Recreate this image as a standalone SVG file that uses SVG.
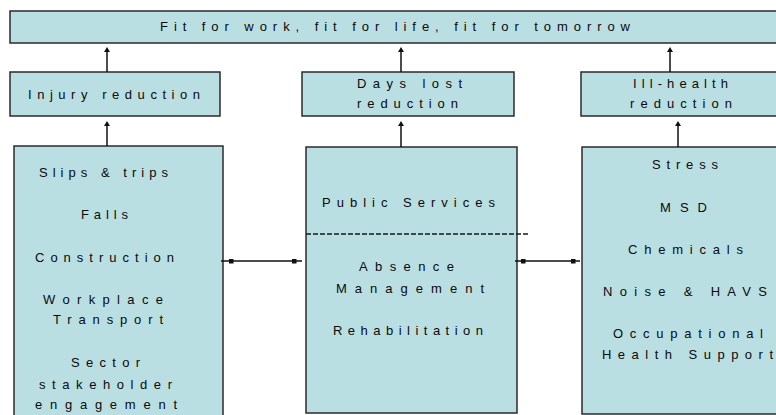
<svg xmlns="http://www.w3.org/2000/svg" width="776" height="415" viewBox="0 0 776 415">
  <defs>
    <!-- small solid arrowhead, drawn along +x so orient="auto" follows the line -->
    <marker id="tri" viewBox="0 0 5 6" refX="1" refY="3" markerWidth="5" markerHeight="6" markerUnits="userSpaceOnUse" orient="auto">
      <path d="M0,0 L5,3 L0,6 Z" fill="#111"/>
    </marker>
    <!-- square joint on the link lines -->
    <marker id="sq" viewBox="0 0 5 5" refX="2.5" refY="2.5" markerWidth="5" markerHeight="5" markerUnits="userSpaceOnUse" orient="0">
      <rect x="0" y="0" width="5" height="5" fill="#111"/>
    </marker>
  </defs>
  <style>
    .box { fill: #b9dfe3; stroke: #2b2b2b; stroke-width: 1.5; }
    .lbl { font-family: "Liberation Sans", Arial, sans-serif; font-size: 13px; fill: #0a0a0a; }
    .up { stroke: #111; stroke-width: 1.5; fill: none; marker-end: url(#tri); }
    .link { stroke: #111; stroke-width: 1.5; fill: none; marker-mid: url(#sq); }
    .split { stroke: #1a1a1a; stroke-width: 1.3; stroke-dasharray: 5 2; fill: none; }
  </style>

  <rect width="776" height="415" fill="#ffffff"/>

  <!-- goal banner -->
  <g id="goal">
    <rect class="box" x="10" y="11" width="775" height="32"/>
    <text class="lbl" x="160" y="31" textLength="470" lengthAdjust="spacing">Fit for work, fit for life, fit for tomorrow</text>
  </g>

  <!-- outcome boxes -->
  <g id="injury-reduction">
    <rect class="box" x="10" y="72" width="210" height="44"/>
    <text class="lbl" x="28" y="99" textLength="172" lengthAdjust="spacing">Injury reduction</text>
  </g>
  <g id="days-lost-reduction">
    <rect class="box" x="302" y="72" width="212" height="44"/>
    <text class="lbl" x="357" y="88" textLength="105" lengthAdjust="spacing">Days lost</text>
    <text class="lbl" x="357" y="108" textLength="101" lengthAdjust="spacing">reduction</text>
  </g>
  <g id="ill-health-reduction">
    <rect class="box" x="581" y="72" width="200" height="44"/>
    <text class="lbl" x="633" y="88" textLength="95" lengthAdjust="spacing">Ill-health</text>
    <text class="lbl" x="630" y="108" textLength="102" lengthAdjust="spacing">reduction</text>
  </g>

  <!-- programme boxes -->
  <g id="injury-programmes">
    <rect class="box" x="14" y="146" width="209" height="275"/>
    <text class="lbl" x="39" y="177" textLength="129" lengthAdjust="spacing">Slips &amp; trips</text>
    <text class="lbl" x="81" y="219" textLength="47" lengthAdjust="spacing">Falls</text>
    <text class="lbl" x="35" y="262" textLength="139" lengthAdjust="spacing">Construction</text>
    <text class="lbl" x="43" y="304" textLength="120" lengthAdjust="spacing">Workplace</text>
    <text class="lbl" x="53" y="324" textLength="110" lengthAdjust="spacing">Transport</text>
    <text class="lbl" x="71" y="367" textLength="69" lengthAdjust="spacing">Sector</text>
    <text class="lbl" x="39" y="389" textLength="133" lengthAdjust="spacing">stakeholder</text>
    <text class="lbl" x="35" y="409" textLength="142" lengthAdjust="spacing">engagement</text>
  </g>
  <g id="days-lost-programmes">
    <rect class="box" x="306" y="147" width="211" height="266"/>
    <text class="lbl" x="322" y="207" textLength="173" lengthAdjust="spacing">Public Services</text>
    <text class="lbl" x="359" y="271" textLength="95" lengthAdjust="spacing">Absence</text>
    <text class="lbl" x="336" y="293" textLength="148" lengthAdjust="spacing">Management</text>
    <text class="lbl" x="333" y="335" textLength="150" lengthAdjust="spacing">Rehabilitation</text>
  </g>
  <g id="ill-health-programmes">
    <rect class="box" x="582" y="147" width="200" height="267"/>
    <text class="lbl" x="652" y="169" textLength="66" lengthAdjust="spacing">Stress</text>
    <text class="lbl" x="660" y="212" textLength="47" lengthAdjust="spacing">MSD</text>
    <text class="lbl" x="628" y="254" textLength="115" lengthAdjust="spacing">Chemicals</text>
    <text class="lbl" x="603" y="296" textLength="164" lengthAdjust="spacing">Noise &amp; HAVS</text>
    <text class="lbl" x="613" y="338" textLength="150" lengthAdjust="spacing">Occupational</text>
    <text class="lbl" x="602" y="359" textLength="171" lengthAdjust="spacing">Health Support</text>
  </g>

  <!-- connectors -->
  <g id="connectors">
    <line class="up" x1="107" y1="72" x2="107" y2="51"/>
    <line class="up" x1="401" y1="72" x2="401" y2="51"/>
    <line class="up" x1="670" y1="72" x2="670" y2="51"/>
    <line class="up" x1="107" y1="146" x2="107" y2="125"/>
    <line class="up" x1="401" y1="147" x2="401" y2="125"/>
    <line class="up" x1="678" y1="147" x2="678" y2="125"/>
    <line class="split" x1="306" y1="234" x2="528" y2="234"/>
    <path class="link" d="M221,261 L231,261 L294,261 L302,261"/>
    <path class="link" d="M515,261 L523,261 L573,261 L580,261"/>
  </g>
</svg>
